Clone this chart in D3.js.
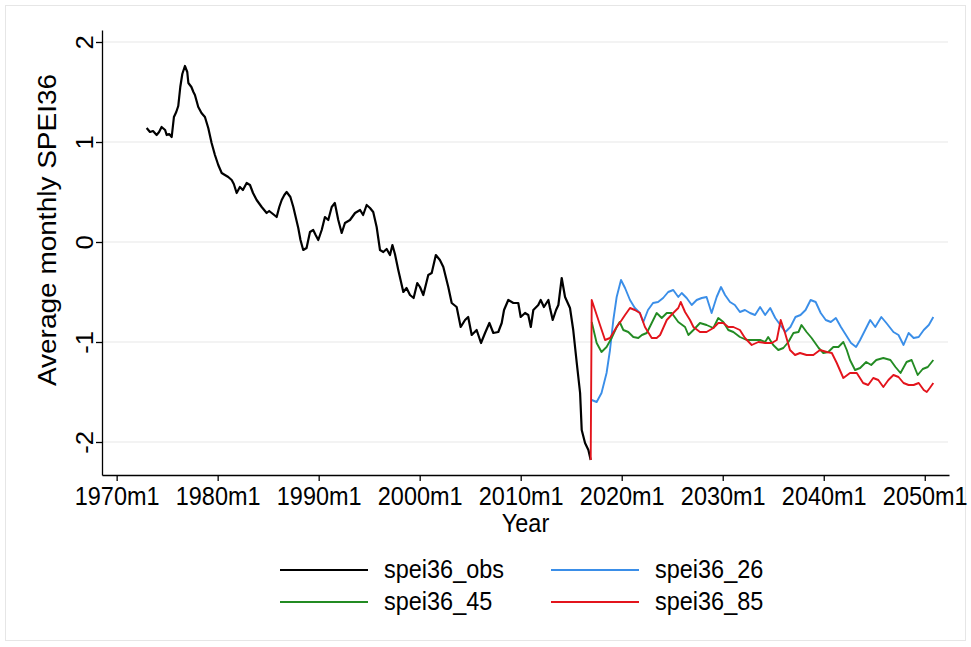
<!DOCTYPE html>
<html>
<head>
<meta charset="utf-8">
<script src="https://cdn.jsdelivr.net/npm/d3@7"></script>
<style>
  body { margin: 0; background: #fff; }
  svg text { font-family: "Liberation Sans", Arial, Helvetica, sans-serif; fill: #000; }
</style>
</head>
<body>
<svg id="chart" width="971" height="647"></svg>
<script>
// Average monthly SPEI36: observed series and three projection scenarios.
// Each entry is [decimal year, value].
const speiObs = [
  [1972.97,1.14],[1973.3,1.10],[1973.6,1.11],[1973.96,1.07],[1974.2,1.10],[1974.45,1.15],
  [1974.8,1.12],[1974.95,1.07],[1975.2,1.08],[1975.45,1.05],[1975.67,1.25],[1975.9,1.30],
  [1976.1,1.36],[1976.3,1.55],[1976.5,1.68],[1976.76,1.76],[1976.99,1.70],[1977.1,1.59],
  [1977.4,1.55],[1977.6,1.50],[1977.75,1.47],[1978.08,1.35],[1978.4,1.29],[1978.74,1.25],
  [1979.07,1.14],[1979.4,0.99],[1979.73,0.87],[1980.06,0.77],[1980.4,0.69],[1980.72,0.67],
  [1981.05,0.65],[1981.39,0.62],[1981.6,0.58],[1981.88,0.49],[1982.2,0.55],[1982.5,0.52],
  [1982.87,0.59],[1983.2,0.57],[1983.5,0.49],[1983.86,0.42],[1984.36,0.35],[1984.85,0.29],
  [1985.1,0.31],[1985.35,0.29],[1985.6,0.27],[1985.84,0.25],[1986.1,0.35],[1986.34,0.42],
  [1986.6,0.47],[1986.83,0.50],[1987.2,0.45],[1987.49,0.35],[1987.98,0.14],[1988.2,0.02],
  [1988.47,-0.08],[1988.8,-0.06],[1989.14,0.10],[1989.46,0.12],[1989.7,0.07],[1989.96,0.02],
  [1990.3,0.12],[1990.62,0.25],[1990.95,0.22],[1991.29,0.35],[1991.6,0.39],[1991.94,0.22],
  [1992.28,0.09],[1992.6,0.19],[1993.1,0.22],[1993.6,0.29],[1994.1,0.32],[1994.4,0.27],
  [1994.75,0.37],[1995.08,0.34],[1995.4,0.30],[1995.74,0.15],[1996.07,-0.08],[1996.4,-0.10],
  [1996.73,-0.07],[1997.06,-0.13],[1997.3,-0.03],[1997.55,-0.12],[1997.88,-0.28],[1998.38,-0.50],
  [1998.7,-0.46],[1999.04,-0.53],[1999.4,-0.56],[1999.76,-0.41],[2000.03,-0.45],[2000.36,-0.53],
  [2000.85,-0.33],[2001.19,-0.31],[2001.6,-0.13],[2002.0,-0.18],[2002.34,-0.25],[2002.83,-0.45],
  [2003.17,-0.61],[2003.66,-0.65],[2004.06,-0.85],[2004.49,-0.78],[2004.8,-0.75],[2005.15,-0.93],
  [2005.64,-0.88],[2006.07,-1.01],[2006.47,-0.91],[2006.9,-0.81],[2007.29,-0.91],[2007.78,-0.90],
  [2008.12,-0.81],[2008.35,-0.68],[2008.77,-0.58],[2009.27,-0.61],[2009.76,-0.61],[2010.0,-0.75],
  [2010.43,-0.71],[2010.75,-0.73],[2011.0,-0.85],[2011.25,-0.68],[2011.74,-0.63],[2011.98,-0.58],
  [2012.3,-0.65],[2012.74,-0.58],[2012.9,-0.66],[2013.17,-0.78],[2013.5,-0.68],[2013.73,-0.63],
  [2014.06,-0.36],[2014.39,-0.55],[2014.88,-0.66],[2015.2,-0.88],[2015.55,-1.21],[2015.88,-1.51],
  [2016.04,-1.88],[2016.37,-2.01],[2016.7,-2.08],[2016.93,-2.18]
];

const spei26 = [
  [2017.03,-1.58],[2017.52,-1.60],[2018.0,-1.51],[2018.5,-1.31],[2018.84,-1.08],[2019.17,-0.78],
  [2019.5,-0.55],[2019.93,-0.38],[2020.33,-0.46],[2020.82,-0.58],[2021.3,-0.66],[2021.8,-0.71],
  [2022.14,-0.80],[2022.6,-0.68],[2023.1,-0.61],[2023.6,-0.60],[2024.1,-0.56],[2024.6,-0.50],
  [2025.1,-0.48],[2025.6,-0.55],[2025.94,-0.51],[2026.43,-0.56],[2026.93,-0.63],[2027.42,-0.58],
  [2027.92,-0.56],[2028.4,-0.55],[2028.9,-0.71],[2029.4,-0.55],[2029.83,-0.45],[2030.23,-0.53],
  [2030.72,-0.60],[2031.2,-0.63],[2031.7,-0.70],[2032.2,-0.68],[2032.7,-0.71],[2033.2,-0.73],
  [2033.7,-0.65],[2034.2,-0.73],[2034.7,-0.66],[2035.2,-0.76],[2035.7,-0.83],[2036.2,-0.90],
  [2036.7,-0.85],[2037.2,-0.75],[2037.7,-0.73],[2038.2,-0.68],[2038.7,-0.58],[2039.2,-0.60],
  [2039.7,-0.71],[2040.2,-0.78],[2040.7,-0.80],[2041.2,-0.76],[2041.7,-0.85],[2042.2,-0.93],
  [2042.7,-1.01],[2043.2,-1.05],[2043.6,-0.98],[2044.1,-0.88],[2044.6,-0.78],[2045.1,-0.85],
  [2045.7,-0.75],[2046.2,-0.81],[2046.9,-0.90],[2047.4,-0.93],[2047.9,-1.03],[2048.4,-0.91],
  [2048.9,-0.96],[2049.4,-0.95],[2049.9,-0.88],[2050.4,-0.83],[2050.85,-0.75]
];

const spei45 = [
  [2017.03,-0.80],[2017.52,-1.01],[2018.0,-1.10],[2018.5,-1.05],[2019.0,-0.96],[2019.5,-0.85],
  [2019.8,-0.80],[2020.16,-0.88],[2020.65,-0.90],[2021.15,-0.95],[2021.64,-0.96],[2022.0,-0.93],
  [2022.48,-0.91],[2022.97,-0.81],[2023.46,-0.71],[2023.96,-0.76],[2024.46,-0.71],[2024.95,-0.71],
  [2025.6,-0.80],[2026.27,-0.85],[2026.6,-0.93],[2027.1,-0.88],[2027.75,-0.81],[2028.4,-0.83],
  [2029.07,-0.86],[2029.56,-0.76],[2030.06,-0.80],[2030.55,-0.88],[2031.05,-0.90],[2031.7,-0.95],
  [2032.37,-0.98],[2033.0,-0.98],[2033.7,-0.98],[2034.2,-1.00],[2034.5,-0.95],[2035.0,-1.03],
  [2035.5,-1.08],[2036.0,-1.06],[2036.5,-1.00],[2037.0,-0.91],[2037.5,-0.90],[2037.8,-0.83],
  [2038.3,-0.90],[2038.8,-0.96],[2039.5,-1.06],[2039.96,-1.11],[2040.45,-1.10],[2040.95,-1.05],
  [2041.45,-1.05],[2041.94,-1.00],[2042.28,-1.08],[2042.6,-1.18],[2043.1,-1.28],[2043.6,-1.26],
  [2044.2,-1.20],[2044.7,-1.23],[2045.2,-1.18],[2045.9,-1.16],[2046.6,-1.18],[2047.1,-1.25],
  [2047.6,-1.31],[2048.2,-1.20],[2048.7,-1.18],[2049.3,-1.33],[2049.8,-1.27],[2050.3,-1.25],
  [2050.85,-1.18]
];

const spei85 = [
  [2016.93,-2.18],[2017.03,-0.58],[2017.85,-0.83],[2018.35,-0.98],[2018.84,-0.96],[2019.5,-0.85],
  [2020.0,-0.78],[2020.33,-0.73],[2020.82,-0.66],[2021.3,-0.68],[2021.8,-0.71],[2022.3,-0.85],
  [2022.97,-0.96],[2023.46,-0.96],[2023.8,-0.93],[2024.46,-0.78],[2025.1,-0.71],[2025.6,-0.66],
  [2025.84,-0.60],[2026.27,-0.70],[2026.76,-0.78],[2027.1,-0.85],[2027.75,-0.90],[2028.4,-0.90],
  [2029.07,-0.86],[2029.56,-0.81],[2030.06,-0.81],[2030.55,-0.85],[2031.05,-0.85],[2031.7,-0.88],
  [2032.2,-0.96],[2032.87,-1.03],[2033.53,-1.00],[2034.2,-1.01],[2034.86,-1.01],[2035.35,-0.98],
  [2035.74,-0.78],[2036.17,-0.91],[2036.66,-1.08],[2037.16,-1.13],[2037.65,-1.11],[2038.3,-1.13],
  [2038.97,-1.13],[2039.63,-1.08],[2040.3,-1.10],[2040.8,-1.11],[2041.29,-1.21],[2041.94,-1.36],
  [2042.6,-1.31],[2043.27,-1.31],[2043.9,-1.41],[2044.4,-1.43],[2044.9,-1.36],[2045.4,-1.38],
  [2045.9,-1.45],[2046.4,-1.38],[2046.9,-1.33],[2047.4,-1.35],[2047.9,-1.41],[2048.4,-1.43],
  [2048.9,-1.43],[2049.4,-1.41],[2049.9,-1.48],[2050.2,-1.50],[2050.5,-1.46],[2050.85,-1.41]
];

const yTicks = [-2, -1, 0, 1, 2];
const xTicks = [1970, 1980, 1990, 2000, 2010, 2020, 2030, 2040, 2050];
const seriesNames = ["spei36_obs", "spei36_26", "spei36_45", "spei36_85"];
const seriesColors = ["#000000", "#3a8ee8", "#238b23", "#e3141c"];

const svg = d3.select("#chart");
const FONT = 25.5, SX = 0.92;   // glyphs are slightly narrower than tall

// outer frame of the graph
svg.append("rect").attr("x", 5.5).attr("y", 5.5).attr("width", 960).attr("height", 635)
  .attr("fill", "#fff").attr("stroke", "#e6e6e6").attr("stroke-width", 1);

const x = d3.scaleLinear().domain([1968.55, 2052.4]).range([102, 949]);
const y = d3.scaleLinear().domain([-2.33, 2.12]).range([475, 30]);

// horizontal gridlines
svg.append("g").selectAll("line").data(yTicks).join("line")
  .attr("x1", 102).attr("x2", 948)
  .attr("y1", d => y(d)).attr("y2", d => y(d))
  .attr("stroke", "#e8e8e8").attr("stroke-width", 1.2);

// y axis with vertical tick labels
const gy = svg.append("g").attr("transform", "translate(102,0)")
  .call(d3.axisLeft(y).tickValues(yTicks).tickFormat(d => String(d)).tickSize(6).tickSizeOuter(0));
gy.select(".domain").attr("stroke", "#000").attr("stroke-width", 1.3);
gy.selectAll(".tick line").attr("stroke", "#000").attr("stroke-width", 1.3);
gy.selectAll(".tick text")
  .attr("x", 0).attr("y", -10).attr("dy", 0)
  .attr("text-anchor", "middle")
  .attr("transform", `rotate(-90) scale(1,${SX})`)
  .style("font-size", FONT + "px");

// x axis
const gx = svg.append("g").attr("transform", "translate(0,475)")
  .call(d3.axisBottom(x).tickValues(xTicks).tickFormat(d => d + "m1").tickSize(6).tickSizeOuter(0).tickPadding(6));
gx.select(".domain").attr("stroke", "#000").attr("stroke-width", 1.3);
gx.selectAll(".tick line").attr("stroke", "#000").attr("stroke-width", 1.3);
gx.selectAll(".tick text")
  .attr("transform", `scale(${SX},1)`)
  .style("font-size", FONT + "px");
svg.selectAll(".tick text").attr("fill", "#000");

// axis titles
svg.append("text")
  .attr("transform", `translate(56,230) rotate(-90) scale(1,${SX})`)
  .attr("text-anchor", "middle")
  .style("font-size", "28px")
  .text("Average monthly SPEI36");
svg.append("text")
  .attr("transform", `translate(525.5,532) scale(${SX},1)`)
  .attr("text-anchor", "middle")
  .style("font-size", FONT + "px")
  .text("Year");

// series lines
const line = d3.line().x(d => x(d[0])).y(d => y(d[1]));
const seriesData = [speiObs, spei26, spei45, spei85];
seriesData.forEach((data, i) => {
  svg.append("path").datum(data)
    .attr("fill", "none")
    .attr("stroke", seriesColors[i])
    .attr("stroke-width", i === 0 ? 2.2 : 1.9)
    .attr("stroke-linejoin", "round")
    .attr("d", line);
});

// legend: two columns, two rows
const legendOrder = [0, 1, 2, 3];
const legendX = [280, 551];
const legendY = [570, 602];
const lg = svg.append("g");
legendOrder.forEach((s, k) => {
  const col = k % 2, row = Math.floor(k / 2);
  const g = lg.append("g").attr("transform", `translate(${legendX[col]},${legendY[row]})`);
  g.append("line").attr("x1", 0).attr("x2", 88).attr("y1", 0).attr("y2", 0)
    .attr("stroke", seriesColors[s]).attr("stroke-width", 2);
  g.append("text")
    .attr("transform", `translate(104,8) scale(${SX},1)`)
    .style("font-size", FONT + "px")
    .text(seriesNames[s]);
});
</script>
</body>
</html>
